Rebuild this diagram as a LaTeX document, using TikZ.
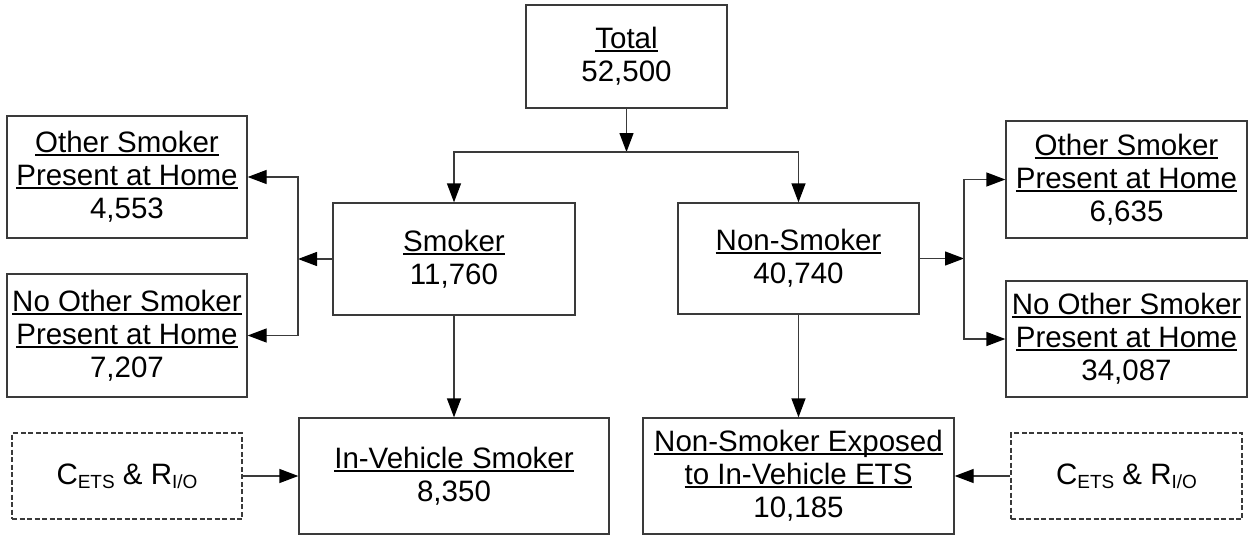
\documentclass[tikz,border=0pt]{standalone}
\usepackage{fontspec}
\setmainfont{Liberation Sans}
\usetikzlibrary{arrows.meta}
\definecolor{linec}{HTML}{3A3A3A}
\newcommand{\ulx}[1]{\setbox0=\hbox{#1}\rlap{\rule[-3.2pt]{\wd0}{1.7pt}}\box0}
\newcommand{\subx}[1]{\raisebox{-0.14em}{\fontsize{19}{19}\selectfont #1}}
\begin{document}
\begin{tikzpicture}[x=1pt,y=-1pt,
  font=\fontsize{29.5}{33}\selectfont,
  box/.style={draw=linec,line width=1.3pt,rectangle,inner sep=0pt,align=center},
  dbox/.style={box,dash pattern=on 5pt off 2.5pt},
  arr/.style={draw=linec,line width=1.3pt,-{Triangle[length=19pt,width=14pt,fill=black,color=black]}},
  ln/.style={draw=linec,line width=1.3pt}]
\useasboundingbox (0,0) rectangle (1249,535);
\node[box,minimum width=201pt,minimum height=103pt] (total) at (626.5,56.5) {\ulx{Total}\\52,500};
\node[box,minimum width=242pt,minimum height=112pt] (smoker) at (454,259) {\ulx{Smoker}\\11,760};
\node[box,minimum width=241pt,minimum height=111pt] (nonsmoker) at (798.5,258.5) {\ulx{Non-Smoker}\\40,740};
\node[box,minimum width=240pt,minimum height=122pt] (lo) at (127,177) {\ulx{Other Smoker}\\\ulx{Present at Home}\\4,553};
\node[box,minimum width=240pt,minimum height=123pt] (lno) at (127,335.5) {\ulx{No Other Smoker}\\\ulx{Present at Home}\\7,207};
\node[box,minimum width=241pt,minimum height=117pt] (ro) at (1126.5,179.5) {\ulx{Other Smoker}\\\ulx{Present at Home}\\6,635};
\node[box,minimum width=241pt,minimum height=116pt] (rno) at (1126.5,339) {\ulx{No Other Smoker}\\\ulx{Present at Home}\\34,087};
\node[box,minimum width=310pt,minimum height=116pt] (inveh) at (454,476) {\ulx{In-Vehicle Smoker}\\8,350};
\node[box,minimum width=311pt,minimum height=116pt] (nsexp) at (798.5,476) {\ulx{Non-Smoker Exposed}\\\ulx{to In-Vehicle ETS}\\10,185};
\node[dbox,minimum width=230pt,minimum height=86pt] (dl) at (127,476) {C\subx{ETS} \& R\subx{I/O}};
\node[dbox,minimum width=231pt,minimum height=86pt] (dr) at (1126.5,476) {C\subx{ETS} \& R\subx{I/O}};
\coordinate (j) at (626.5,152);
\coordinate (lb) at (298,259);
\coordinate (rb) at (964,258.5);
\draw[arr] (total.south) -- (j);
\draw[arr] (j) -| (smoker.north);
\draw[arr] (j) -| (nonsmoker.north);
\draw[arr] (smoker.west) -- (lb);
\draw[arr] (lb) |- (lo.east);
\draw[arr] (lb) |- (lno.east);
\draw[arr] (nonsmoker.east) -- (rb);
\draw[arr] (rb) |- (ro.west);
\draw[arr] (rb) |- (rno.west);
\draw[arr] (smoker.south) -- (inveh.north);
\draw[arr] (nonsmoker.south) -- (nsexp.north);
\draw[arr] (dl.east) -- (inveh.west);
\draw[arr] (dr.west) -- (nsexp.east);
\end{tikzpicture}
\end{document}
